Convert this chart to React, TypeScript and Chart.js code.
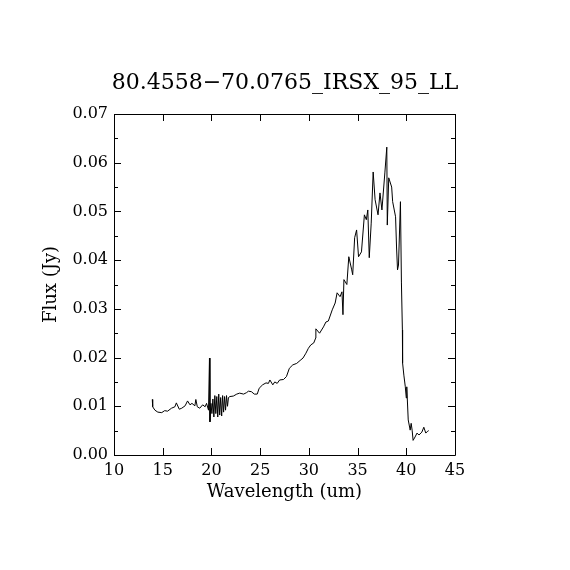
import React, { useEffect, useRef } from "react";
import { Chart, registerables } from "chart.js";

Chart.register(...registerables);

const TITLE = "80.4558\u221270.0765_IRSX_95_LL";
const X_LABEL = "Wavelength (um)";
const Y_LABEL = "Flux (Jy)";

const wavelength = [
  13.93, 13.97, 14.2, 14.5, 14.9, 15.2, 15.5, 15.9, 16.25, 16.4, 16.7, 16.95, 17.3, 17.55, 17.8, 18.0,
  18.3, 18.4, 18.55, 18.8, 19.1, 19.35, 19.5, 19.7, 19.8, 19.85, 19.95, 20.05, 20.15, 20.25, 20.35,
  20.45, 20.55, 20.65, 20.75, 20.85, 20.95, 21.05, 21.15, 21.25, 21.35, 21.45, 21.55, 21.65, 21.75,
  21.9, 22.25, 22.6, 22.9, 23.3, 23.6, 23.8, 24.1, 24.4, 24.7, 24.9, 25.25, 25.6, 25.85, 26.0, 26.3,
  26.5, 26.75, 27.0, 27.4, 27.7, 28.0, 28.35, 28.75, 29.1, 29.4, 29.7, 29.95, 30.2, 30.5, 30.7, 30.72,
  31.1, 31.5, 31.75, 32.0, 32.4, 32.7, 32.9, 33.2, 33.4, 33.5, 33.6, 33.9, 34.1, 34.4, 34.5, 34.7,
  34.9, 35.1, 35.4, 35.7, 35.9, 36.05, 36.2, 36.4, 36.6, 36.8, 37.1, 37.3, 37.5, 37.8, 38.0, 38.05,
  38.2, 38.5, 38.6, 38.9, 39.0, 39.1, 39.2, 39.4, 39.5, 39.6, 39.62, 39.75, 39.9, 40.0, 40.05, 40.2,
  40.4, 40.5, 40.6, 40.7, 40.9, 41.1, 41.3, 41.6, 41.8, 42.0, 42.2, 42.3,
];

const flux = [
  0.0114, 0.0099, 0.0092, 0.0088, 0.0087, 0.0091, 0.009, 0.0096, 0.0099, 0.0107, 0.0094, 0.0096, 0.0101,
  0.0111, 0.0103, 0.0106, 0.0101, 0.0114, 0.0099, 0.0096, 0.0103, 0.0099, 0.0106, 0.0092, 0.0199, 0.0068,
  0.0106, 0.0085, 0.0115, 0.0078, 0.0122, 0.0085, 0.012, 0.0078, 0.0125, 0.0082, 0.0118, 0.008, 0.0122,
  0.0088, 0.012, 0.0092, 0.0122, 0.01, 0.0118, 0.012, 0.0121, 0.0125, 0.0127, 0.0125, 0.0128, 0.0131,
  0.013, 0.0125, 0.0125, 0.0137, 0.0144, 0.0148, 0.0147, 0.0154, 0.0144, 0.015, 0.0147, 0.0154, 0.0155,
  0.0161, 0.0178, 0.0185, 0.0188, 0.0194, 0.0199, 0.0209, 0.0219, 0.0226, 0.023, 0.024, 0.0259, 0.025,
  0.0263, 0.0273, 0.0275, 0.0298, 0.0312, 0.0333, 0.0325, 0.0335, 0.0288, 0.036, 0.035, 0.0407, 0.038,
  0.037, 0.0446, 0.0462, 0.0407, 0.0417, 0.0493, 0.0483, 0.0503, 0.0405, 0.0476, 0.0581, 0.0524, 0.0493,
  0.0538, 0.0503, 0.0579, 0.0632, 0.0472, 0.0569, 0.055, 0.052, 0.0489, 0.0427, 0.038, 0.039, 0.052,
  0.0355, 0.0257, 0.0189, 0.0164, 0.014, 0.0117, 0.014, 0.0072, 0.0051, 0.0065, 0.0051, 0.003, 0.0037,
  0.0045, 0.0041, 0.0047, 0.0057, 0.0045, 0.0049, 0.005,
];

const xMajorTicks = [10, 15, 20, 25, 30, 35, 40, 45];
const yMajorTicks = [0, 0.01, 0.02, 0.03, 0.04, 0.05, 0.06, 0.07];
const yMinorTicks = [0.005, 0.015, 0.025, 0.035, 0.045, 0.055, 0.065];

const SERIF = "'DejaVu Serif', 'Liberation Serif', serif";

const framePlugin = {
  id: "frameTicks",
  afterDraw(chart: any) {
    const { ctx, chartArea } = chart;
    const xs = chart.scales.x;
    const ys = chart.scales.y;
    const { left, right, top, bottom } = chartArea;
    ctx.save();
    ctx.strokeStyle = "#000";
    ctx.lineWidth = 1;
    ctx.beginPath();
    ctx.rect(Math.round(left) + 0.5, Math.round(top) + 0.5, Math.round(right - left), Math.round(bottom - top));
    ctx.stroke();
    const major = 7;
    const minor = 4;
    ctx.beginPath();
    xMajorTicks.forEach((v) => {
      const px = Math.round(xs.getPixelForValue(v)) + 0.5;
      ctx.moveTo(px, bottom);
      ctx.lineTo(px, bottom - major);
      ctx.moveTo(px, top);
      ctx.lineTo(px, top + major);
    });
    yMajorTicks.forEach((v) => {
      const py = Math.round(ys.getPixelForValue(v)) + 0.5;
      ctx.moveTo(left, py);
      ctx.lineTo(left + major, py);
      ctx.moveTo(right, py);
      ctx.lineTo(right - major, py);
    });
    yMinorTicks.forEach((v) => {
      const py = Math.round(ys.getPixelForValue(v)) + 0.5;
      ctx.moveTo(left, py);
      ctx.lineTo(left + minor, py);
      ctx.moveTo(right, py);
      ctx.lineTo(right - minor, py);
    });
    ctx.stroke();
    // title
    ctx.fillStyle = "#000";
    ctx.font = "22px " + SERIF;
    ctx.textAlign = "center";
    ctx.textBaseline = "alphabetic";
    ctx.fillText(TITLE, chart.width / 2, 89);
    ctx.restore();
  },
};

export default function App() {
  const canvasRef = useRef<HTMLCanvasElement | null>(null);

  useEffect(() => {
    if (!canvasRef.current) return;
    const points = wavelength.map((w, i) => ({ x: w, y: flux[i] }));
    const chart = new Chart(canvasRef.current, {
      type: "line",
      data: {
        datasets: [
          {
            data: points,
            borderColor: "#000",
            borderWidth: 1,
            pointRadius: 0,
            tension: 0,
            fill: false,
          },
        ],
      },
      options: {
        animation: false,
        responsive: false,
        devicePixelRatio: 1,
        layout: { padding: { top: 114, right: 115, left: 0, bottom: 0 } },
        plugins: {
          legend: { display: false },
          tooltip: { enabled: false },
          title: { display: false },
        },
        scales: {
          x: {
            type: "linear",
            min: 10,
            max: 45,
            afterFit: (scale: any) => {
              scale.height = 115;
            },
            afterBuildTicks: (scale: any) => {
              scale.ticks = xMajorTicks.map((v) => ({ value: v }));
            },
            grid: { display: false, drawTicks: false },
            border: { display: false },
            ticks: {
              padding: 6,
              color: "#000",
              maxRotation: 0,
              autoSkip: false,
              font: { family: SERIF, size: 16 },
              callback: (v: any) => String(v),
            },
            title: {
              display: true,
              text: X_LABEL,
              color: "#000",
              font: { family: SERIF, size: 18 },
              padding: { top: 0, bottom: 67 },
            },
          },
          y: {
            type: "linear",
            min: 0,
            max: 0.07,
            afterFit: (scale: any) => {
              scale.width = 114;
            },
            afterBuildTicks: (scale: any) => {
              scale.ticks = yMajorTicks.map((v) => ({ value: v }));
            },
            grid: { display: false, drawTicks: false },
            border: { display: false },
            ticks: {
              padding: 6,
              color: "#000",
              autoSkip: false,
              font: { family: SERIF, size: 16 },
              callback: (v: any) => Number(v).toFixed(2),
            },
            title: {
              display: true,
              text: Y_LABEL,
              color: "#000",
              font: { family: SERIF, size: 18 },
              padding: { top: 41, bottom: 0 },
            },
          },
        },
      },
      plugins: [framePlugin],
    });
    return () => chart.destroy();
  }, []);

  return (
    <div style={{ position: "absolute", left: 0, top: 0, width: 570, height: 570, background: "#fff" }}>
      <canvas ref={canvasRef} width={570} height={570} style={{ width: 570, height: 570 }} />
    </div>
  );
}
